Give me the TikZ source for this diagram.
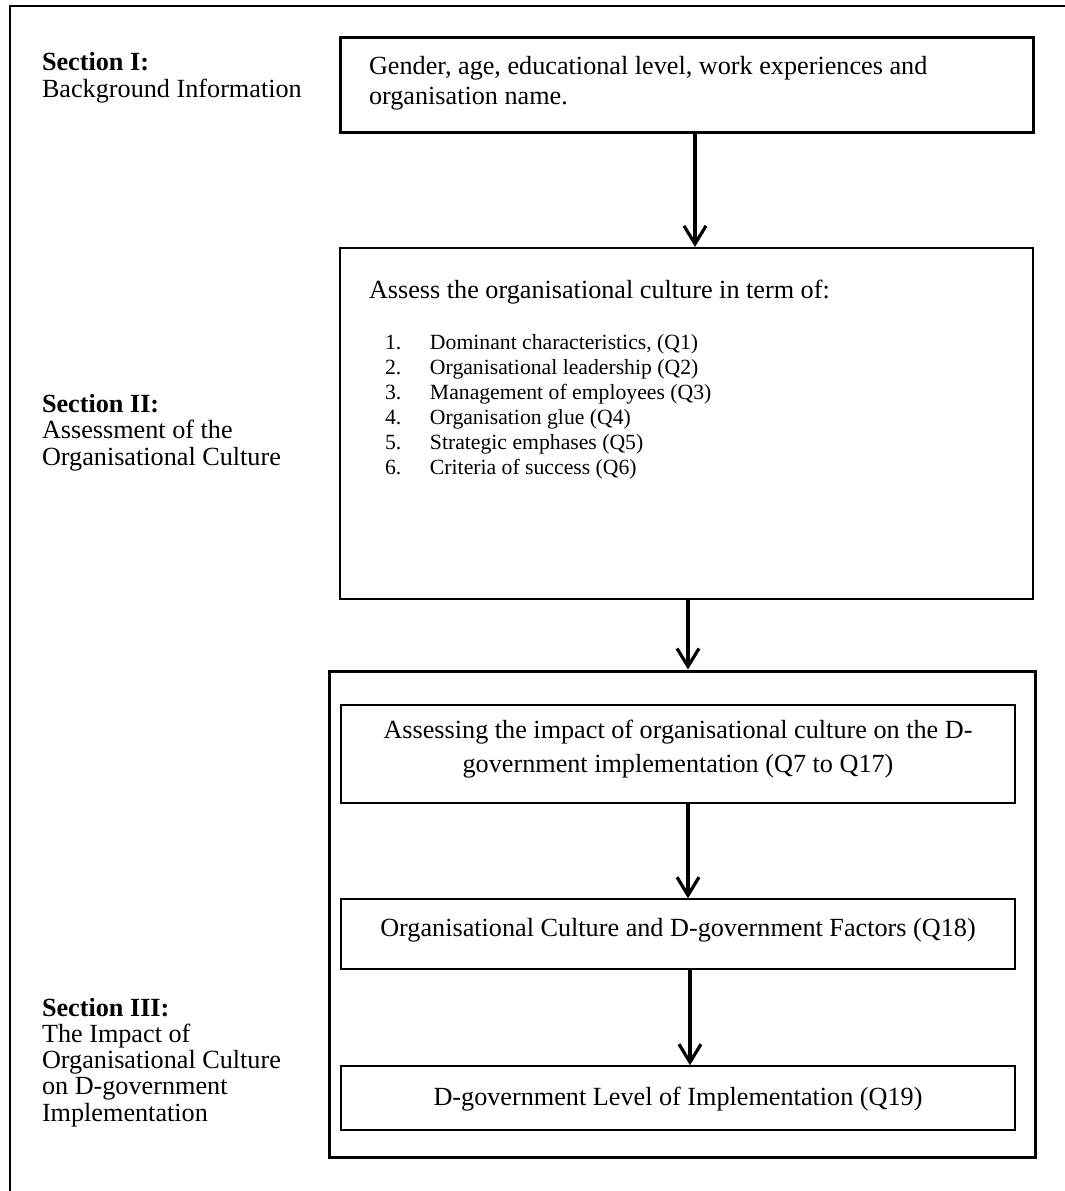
\documentclass[tikz,border=0pt]{standalone}
\usepackage{fontspec}
\setmainfont{Liberation Serif}
\usetikzlibrary{arrows.meta}

% font sizes used in the chart
\newcommand{\bodysz}{\fontsize{13.1}{14.6}\selectfont}
\newcommand{\sidesz}{\fontsize{13.1}{13.1}\selectfont}
\newcommand{\itemsz}{\fontsize{10.85}{12.5}\selectfont}
\newcommand{\widesz}{\fontsize{13.1}{17}\selectfont}

\tikzset{
  frame/.style={line width=1pt},
  heavybox/.style={draw, line width=1.5pt, inner sep=0pt},
  midbox/.style={draw, line width=1.1pt, inner sep=0pt},
  thinbox/.style={draw, line width=0.75pt, inner sep=0pt},
  txt/.style={inner sep=0pt, outer sep=0pt},
  flow/.style={line width=1.6pt, -{Straight Barb[length=9pt,width=11pt]}}
}

\begin{document}
\begin{tikzpicture}[x=0.5pt, y=-0.5pt]
  \useasboundingbox (0,0) rectangle (1065,1191);

  % outer page frame (top and left edges)
  \draw[frame] (10,1191) -- (10,6) -- (1065,6);

  % section labels on the left (anchored at the baseline of their last line)
  \node[txt, anchor=base west, align=left, font=\sidesz] (sec1) at (42,97)
    {\textbf{Section I:}\\Background Information};
  \node[txt, anchor=base west, align=left, font=\sidesz] (sec2) at (42,465)
    {\textbf{Section II:}\\Assessment of the\\Organisational Culture};
  \node[txt, anchor=base west, align=left, font=\sidesz] (sec3) at (42,1121)
    {\textbf{Section III:}\\The Impact of\\Organisational Culture\\on D-government\\Implementation};

  % Section I box
  \node[heavybox, minimum width=346.5pt, minimum height=47.5pt] (bg) at (686.5,84.5) {};
  \node[txt, anchor=base west, align=left, font=\bodysz] (bgtext) at (369,104)
    {Gender, age, educational level, work experiences and\\organisation name.};

  % Section II box
  \node[midbox, minimum width=346.5pt, minimum height=175.5pt] (oc) at (686.5,423.5) {};
  \node[txt, anchor=base west, font=\bodysz] (octitle) at (369,298)
    {Assess the organisational culture in term of:};
  \node[txt, anchor=base west, align=left, font=\itemsz] (oclist) at (385,474)
    {\makebox[22.5pt][l]{1.}Dominant characteristics, (Q1)\\
     \makebox[22.5pt][l]{2.}Organisational leadership (Q2)\\
     \makebox[22.5pt][l]{3.}Management of employees (Q3)\\
     \makebox[22.5pt][l]{4.}Organisation glue (Q4)\\
     \makebox[22.5pt][l]{5.}Strategic emphases (Q5)\\
     \makebox[22.5pt][l]{6.}Criteria of success (Q6)};

  % Section III container and its three steps
  \node[heavybox, minimum width=353pt, minimum height=243pt] (impact) at (682,914) {};
  \node[thinbox, minimum width=337pt, minimum height=49pt] (assess) at (678,754) {};
  \node[txt, anchor=base, align=center, font=\widesz] (assesstext) at (678,772)
    {Assessing the impact of organisational culture on the D-\\government implementation (Q7 to Q17)};
  \node[thinbox, minimum width=337pt, minimum height=35pt] (factors) at (678,934) {};
  \node[txt, anchor=base, font=\bodysz] (factorstext) at (678,936)
    {Organisational Culture and D-government Factors (Q18)};
  \node[thinbox, minimum width=337pt, minimum height=32pt] (level) at (678,1098) {};
  \node[txt, anchor=base, font=\bodysz] (leveltext) at (678,1105)
    {D-government Level of Implementation (Q19)};

  % connectors
  \draw[flow] ([xshift=4.25pt]bg.south) coordinate (f1) -- (f1 |- oc.north);
  \draw[flow] ([xshift=0.75pt]oc.south) coordinate (f2) -- (f2 |- impact.north);
  \draw[flow] ([xshift=5pt]assess.south) coordinate (f3) -- (f3 |- factors.north);
  \draw[flow] ([xshift=6pt]factors.south) coordinate (f4) -- (f4 |- level.north);
\end{tikzpicture}
\end{document}
